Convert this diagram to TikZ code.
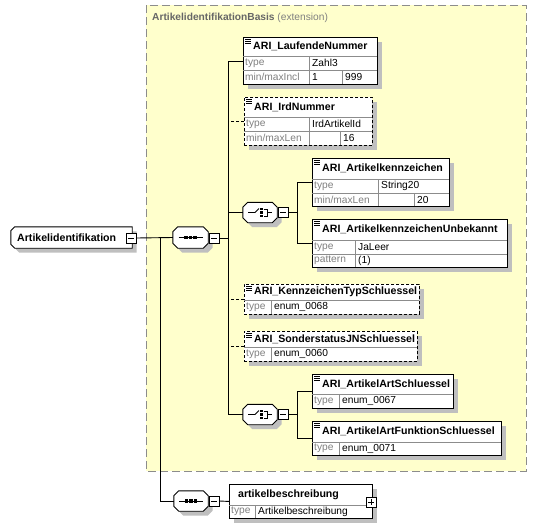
\documentclass[tikz,border=0pt]{standalone}
\usepackage{fontspec}
\setmainfont{Liberation Sans}
\definecolor{extfill}{HTML}{FFFFCC}
\definecolor{extline}{HTML}{8C8C8C}
\definecolor{lblgray}{HTML}{808080}
\newcommand{\ttlfont}  {\fontsize{10.6}{12}\selectfont\bfseries}
\newcommand{\cellfont} {\fontsize{10.2}{12}\selectfont}
\newcommand{\octpath}[2]{([xshift=#2]#1.north west) -- ([xshift=-#2]#1.north east)
  -- ([yshift=-#2]#1.north east) -- ([yshift=#2]#1.south east)
  -- ([xshift=-#2]#1.south east) -- ([xshift=#2]#1.south west)
  -- ([yshift=#2]#1.south west) -- ([yshift=-#2]#1.north west) -- cycle}
\newcommand{\seqicon}[1]{%
  \draw[line width=0.9pt] ([xshift=-12pt]#1.center) -- ([xshift=12pt]#1.center);
  \foreach \d in {-4.5,0,4.5}
    \fill ([xshift=\d pt]#1.center) ++(-1.6,-1.6) rectangle ++(3.2,3.2);}
\newcommand{\choiceicon}[1]{%
  \begin{scope}[shift={(#1.center)},line width=0.8pt]
    \draw (-12,0) -- (-5,0) -- (-1,-4);
    \foreach \d in {-3.5,0,3.5}
      \fill (1.5,\d) ++(-1.1,-1.1) rectangle ++(2.2,2.2);
    \draw (3.5,-3.5) -- (7,-3.5) -- (7,3.5) -- (3.5,3.5) (7,0) -- (12,0);
  \end{scope}}

\begin{document}
\begin{tikzpicture}[x=1pt,y=-1pt,
  conn/.style={line width=0.9pt},
  optconn/.style={conn,dash pattern=on 3pt off 2pt},
  shad/.style={preaction={fill=black!25,draw=none,transform canvas={shift={(4.5pt,-4.5pt)}}}},
  plainelem/.style={draw,fill=white,line width=0.9pt,inner sep=0pt,anchor=north west},
  elem/.style={plainelem,path picture={
      \foreach \k in {1.5,3.5,5.5}
        \draw[solid,line width=0.7pt] ([xshift=2pt,yshift=-\k pt]path picture bounding box.north west) -- ++(6pt,0);}},
  optelem/.style={elem,dash pattern=on 3pt off 2pt},
  cell/.style={line width=0.7pt,black!45},
  ttl/.style={anchor=west,inner sep=0pt,font=\ttlfont},
  lbl/.style={anchor=west,inner sep=0pt,font=\cellfont,text=lblgray},
  val/.style={anchor=west,inner sep=0pt,font=\cellfont},
  model/.style={minimum width=34pt,minimum height=20pt,inner sep=0pt},
  modelline/.style={draw,fill=white,line width=0.9pt,shad},
  btn/.style={draw,fill=white,line width=0.8pt,minimum size=10pt,inner sep=0pt,
    path picture={\draw[line width=0.8pt] ([xshift=2pt]path picture bounding box.west) -- ([xshift=-2pt]path picture bounding box.east);}},
  plusbtn/.style={draw,fill=white,line width=0.8pt,minimum size=10pt,inner sep=0pt,
    path picture={\draw[line width=0.8pt] ([xshift=2pt]path picture bounding box.west) -- ([xshift=-2pt]path picture bounding box.east)
                                           ([yshift=-2pt]path picture bounding box.north) -- ([yshift=2pt]path picture bounding box.south);}}
]
  \useasboundingbox (0,0) rectangle (536,528);

  % extension area
  \draw[extline,fill=extfill,line width=0.9pt,dash pattern=on 8pt off 4pt] (146,5) rectangle (526,471);
  \node[anchor=west,inner sep=0pt,font=\cellfont,text=lblgray] (extlbl) at (152,18)
    {{\bfseries\color{black!60}ArtikelidentifikationBasis} (extension)};

  % shadows of the element boxes
  \foreach \x/\y/\w/\h in {243/37/134/47, 244/97/128/48, 312/158/137/48, 312/219/195/48,
                            244/284/175/30, 244/331/173/30, 312/374/141/34, 312/421/189/34, 229/484/143/34}
    \fill[black!25] (\x+4.5,\y+4.5) rectangle ++(\w,\h);

  % root element and sequences
  \node[minimum width=121pt,minimum height=21pt,inner sep=0pt] (root) at (71.5,237.5) {};
  \draw[modelline] ([xshift=4pt]root.north west) -- (root.north east) -- (root.south east)
    -- ([xshift=4pt]root.south west) -- ([yshift=4pt]root.south west) -- ([yshift=-4pt]root.north west) -- cycle;
  \node[ttl] (rootlbl) at (17,238) {Artikelidentifikation};
  \node[btn] (rootm) at (131,238) {};
  \node[model,minimum width=35pt,minimum height=21pt] (seq1) at (190.5,237.5) {};
  \draw[modelline] \octpath{seq1}{5pt};
  \seqicon{seq1}
  \node[btn] (seq1m) at (214,238) {};
  \node[model] (seq2) at (191,501) {};
  \draw[modelline] \octpath{seq2}{5pt};
  \seqicon{seq2}
  \node[btn] (seq2m) at (214,501) {};
  \coordinate (rb) at (160,238);

  % choices
  \node[model] (ch1) at (260,212.5) {};
  \draw[modelline] \octpath{ch1}{5pt};
  \choiceicon{ch1}
  \node[btn] (ch1m) at (283,212.5) {};
  \node[model] (ch2) at (260,414.5) {};
  \draw[modelline] \octpath{ch2}{5pt};
  \choiceicon{ch2}
  \node[btn] (ch2m) at (283,414.5) {};

  % ARI_LaufendeNummer
  \node[elem,minimum width=134pt,minimum height=47pt] (lfd) at (243,37) {};
  \draw[cell] (243,56) -- (377,56) (243,70) -- (377,70) (309,56) -- (309,84) (342,70) -- (342,84);
  \node[ttl] (lfdt) at (253,46.5) {ARI\_LaufendeNummer};
  \node[lbl] at (245,63) {type};        \node[val] at (312,63) {Zahl3};
  \node[lbl] at (245,77) {min/maxIncl}; \node[val] at (312,77) {1}; \node[val] at (345,77) {999};

  % ARI_IrdNummer
  \node[optelem,minimum width=128pt,minimum height=48pt] (ird) at (244,97) {};
  \draw[cell] (244,117) -- (372,117) (244,131) -- (372,131) (309,117) -- (309,145) (340,131) -- (340,145);
  \node[ttl] (irdt) at (254,107) {ARI\_IrdNummer};
  \node[lbl] at (246,124) {type};       \node[val] at (312,124) {IrdArtikelId};
  \node[lbl] at (246,138) {min/maxLen}; \node[val] at (343,138) {16};

  % ARI_Artikelkennzeichen
  \node[elem,minimum width=137pt,minimum height=48pt] (akz) at (312,158) {};
  \draw[cell] (312,179) -- (449,179) (312,193) -- (449,193) (378,179) -- (378,206) (414,193) -- (414,206);
  \node[ttl] (akzt) at (322,168.5) {ARI\_Artikelkennzeichen};
  \node[lbl] at (314,186) {type};         \node[val] at (381,186) {String20};
  \node[lbl] at (314,199.5) {min/maxLen}; \node[val] at (417,199.5) {20};

  % ARI_ArtikelkennzeichenUnbekannt
  \node[elem,minimum width=195pt,minimum height=48pt] (akzu) at (312,219) {};
  \draw[cell] (312,240) -- (507,240) (312,254) -- (507,254) (355,240) -- (355,267);
  \node[ttl] (akzut) at (322,229.5) {ARI\_ArtikelkennzeichenUnbekannt};
  \node[lbl] at (314,247) {type};      \node[val] at (358,247) {JaLeer};
  \node[lbl] at (314,260.5) {pattern}; \node[val] at (358,260.5) {(1)};

  % ARI_KennzeichenTypSchluessel
  \node[optelem,minimum width=175pt,minimum height=30pt] (kzt) at (244,284) {};
  \draw[cell] (244,300) -- (419,300) (271,300) -- (271,314);
  \node[ttl] (kztt) at (254,292) {ARI\_KennzeichenTypSchluessel};
  \node[lbl] at (246,307) {type}; \node[val] at (274,307) {enum\_0068};

  % ARI_SonderstatusJNSchluessel
  \node[optelem,minimum width=173pt,minimum height=30pt] (sjn) at (244,331) {};
  \draw[cell] (244,347) -- (417,347) (271,347) -- (271,361);
  \node[ttl] (sjnt) at (254,339) {ARI\_SonderstatusJNSchluessel};
  \node[lbl] at (246,354) {type}; \node[val] at (274,354) {enum\_0060};

  % ARI_ArtikelArtSchluessel
  \node[elem,minimum width=141pt,minimum height=34pt] (aas) at (312,374) {};
  \draw[cell] (312,394) -- (453,394) (339,394) -- (339,408);
  \node[ttl] (aast) at (322,384) {ARI\_ArtikelArtSchluessel};
  \node[lbl] at (314,401) {type}; \node[val] at (342,401) {enum\_0067};

  % ARI_ArtikelArtFunktionSchluessel
  \node[elem,minimum width=189pt,minimum height=34pt] (aafs) at (312,421) {};
  \draw[cell] (312,442) -- (501,442) (339,442) -- (339,455);
  \node[ttl] (aafst) at (322,431.5) {ARI\_ArtikelArtFunktionSchluessel};
  \node[lbl] at (314,448.5) {type}; \node[val] at (342,448.5) {enum\_0071};

  % artikelbeschreibung
  \node[plainelem,minimum width=143pt,minimum height=34pt] (besch) at (229,484) {};
  \draw[cell] (229,505) -- (372,505) (255,505) -- (255,518);
  \node[ttl] (boxt) at (238,494.5) {artikelbeschreibung};
  \node[lbl] at (231,511.5) {type}; \node[val] at (258,511.5) {Artikelbeschreibung};
  \node[plusbtn] (beschp) at (371,502) {};

  % connectors
  \draw[conn] (rootm.east) -- (seq1.west);
  \draw[conn] (rb) |- (seq2.west);
  \draw[conn] (seq1m.east) -- ++(10,0);
  \draw[conn] (lfd.west) -- ++(-15,0) |- (ch2.west);
  \draw[optconn] (ird.west) -- ++(-16,0);
  \draw[conn] (ch1.west) -- ++(-15,0);
  \draw[optconn] (kzt.west) -- ++(-16,0);
  \draw[optconn] (sjn.west) -- ++(-16,0);
  \draw[conn] (ch1m.east) -- ++(9,0);
  \draw[conn] (akz.west) -- ++(-15,0) |- (akzu.west);
  \draw[conn] (ch2m.east) -- ++(9,0);
  \draw[conn] (aas.west) -- ++(-15,0) |- (aafs.west);
  \draw[conn] (seq2m.east) -- (besch.west);
\end{tikzpicture}
\end{document}
